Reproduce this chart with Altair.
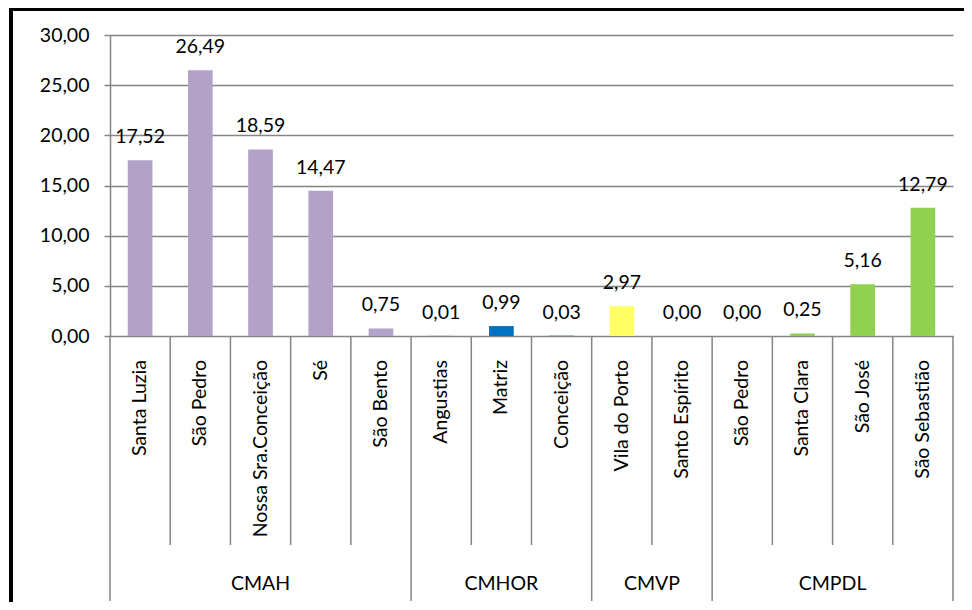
import altair as alt
import pandas as pd

# ---- data ----
groups = ["CMAH"] * 5 + ["CMHOR"] * 3 + ["CMVP"] * 2 + ["CMPDL"] * 4
names = ["Santa Luzia", "São Pedro", "Nossa Sra.Conceição", "Sé", "São Bento",
         "Angustias", "Matriz", "Conceição",
         "Vila do Porto", "Santo Espírito",
         "São Pedro", "Santa Clara", "São José", "São Sebastião"]
values = [17.52, 26.49, 18.59, 14.47, 0.75,
          0.01, 0.99, 0.03,
          2.97, 0.00,
          0.00, 0.25, 5.16, 12.79]
group_order = ["CMAH", "CMHOR", "CMVP", "CMPDL"]
group_colors = ["#B3A2C7", "#0070C0", "#FFFF66", "#92D050"]
y_ticks = [0, 5, 10, 15, 20, 25, 30]

FONT = "Lato"
FS = 19.5
LINE = "#858585"
N = len(names)

df = pd.DataFrame({
    "idx": list(range(N)),
    "name": names,
    "group": groups,
    "value": values,
    "label": [f"{v:.2f}".replace(".", ",") for v in values],
})

# separators and group labels derived from the group lists
gl = []
group_bounds = {0}
start = 0
for g in group_order:
    n = groups.count(g)
    gl.append({"group": g, "center": start + n / 2})
    start += n
    group_bounds.add(start)
sep = pd.DataFrame({"pos": list(range(N + 1))})
sep["long"] = sep["pos"].isin(group_bounds)
gl_df = pd.DataFrame(gl)

xscale = alt.Scale(domain=[0, N], nice=False, zero=False, padding=0)
yscale = alt.Scale(domain=[0, 30], nice=False, padding=0)


def X(field):
    return alt.X(field, type="quantitative", scale=xscale, axis=None)


base = alt.Chart(df).transform_calculate(
    x0="datum.idx + 0.295", x1="datum.idx + 0.705", xc="datum.idx + 0.5"
)

bars = base.mark_bar().encode(
    x=X("x0"),
    x2="x1:Q",
    y=alt.Y("value:Q", scale=yscale, axis=alt.Axis(
        values=y_ticks,
        labelExpr="replace(format(datum.value, '.2f'), '.', ',')",
        grid=True, gridColor=LINE, gridWidth=1.5,
        domainColor=LINE, domainWidth=1.5, tickColor=LINE, tickWidth=1.5, tickSize=6,
        labelFont=FONT, labelFontSize=FS, labelColor="black",
        labelPadding=15, title=None,
    )),
    y2=alt.datum(0),
    color=alt.Color("group:N", scale=alt.Scale(domain=group_order, range=group_colors), legend=None),
)

vlabels = base.mark_text(dy=-23, baseline="middle", font=FONT, fontSize=FS, color="black").encode(
    x=X("xc"),
    y=alt.Y("value:Q", scale=yscale),
    text="label:N",
)

clabels = base.mark_text(angle=270, align="right", baseline="middle",
                         font=FONT, fontSize=FS, color="black").encode(
    x=X("xc"),
    y=alt.value(325),
    text="name:N",
)

short_sep = alt.Chart(sep).transform_filter("!datum.long").mark_rule(color=LINE, strokeWidth=1.5).encode(
    x=X("pos"), y=alt.value(301), y2=alt.value(510)
)
long_sep = alt.Chart(sep).transform_filter("datum.long").mark_rule(color=LINE, strokeWidth=1.5).encode(
    x=X("pos"), y=alt.value(301), y2=alt.value(566)
)

glabels = alt.Chart(gl_df).mark_text(baseline="middle", font=FONT, fontSize=FS, color="black").encode(
    x=X("center"), y=alt.value(549), text="group:N"
)

one = pd.DataFrame({"a": [0]})
border_left = alt.Chart(one).mark_rule(color="black", strokeWidth=4).encode(
    x=alt.value(-99), y=alt.value(-27), y2=alt.value(567)
)
border_top = alt.Chart(one).mark_rule(color="black", strokeWidth=3).encode(
    x=alt.value(-101), x2=alt.value(854), y=alt.value(-25.5)
)

chart = alt.layer(
    short_sep, long_sep, bars, vlabels, clabels, glabels, border_left, border_top
).properties(
    width=843, height=301,
    autosize=alt.AutoSizeParams(type="none"),
    padding={"left": 102, "top": 27, "right": 11, "bottom": 266},
).configure_view(stroke=None)

chart.save("out.html", embed_options={"renderer": "svg", "actions": False})
